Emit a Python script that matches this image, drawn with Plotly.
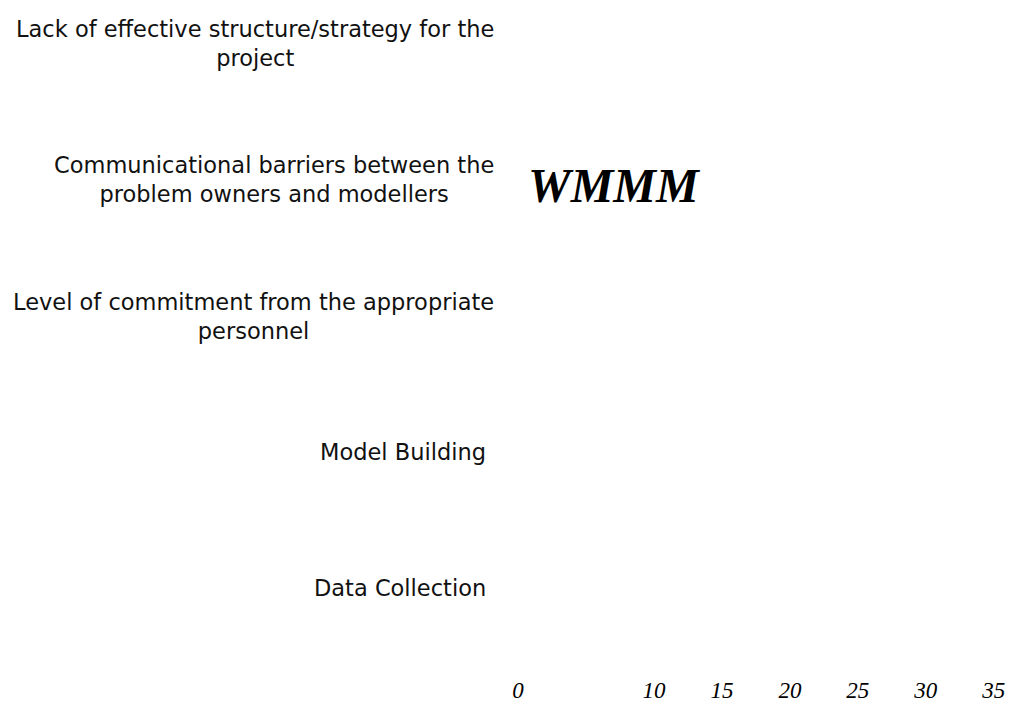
import plotly.graph_objects as go

# ---- data ----
categories = [
    "Data Collection",
    "Model Building",
    "Level of commitment from the appropriate<br>personnel",
    "Communicational barriers between the<br>problem owners and modellers",
    "Lack of effective structure/strategy for the<br>project",
]
values = [0, 0, 0, 0, 0]          # no visible bars in the reference
x_tick_values = [0, 10, 15, 20, 25, 30, 35]
x_tick_labels = ["0", "10", "15", "20", "25", "30", "35"]
marker_text = "WMMM"
marker_category = categories[3]

fig = go.Figure(
    go.Bar(
        y=categories,
        x=values,
        orientation="h",
        marker=dict(color="rgba(255,255,255,0)", line=dict(width=0)),
        hoverinfo="skip",
    )
)

label_font = dict(family="DejaVu Sans", size=22.5, color="#111111")
annotations = []
for cat in categories:
    multi = "<br>" in cat
    annotations.append(
        dict(
            text=cat,
            xref="paper",
            x=0,
            yref="y",
            y=cat,
            xanchor="right",
            yanchor="middle",
            align="center",
            showarrow=False,
            font=label_font,
            xshift=-22 if multi else -30,
        )
    )

annotations.append(
    dict(
        text=f"<b><i>{marker_text}</i></b>",
        xref="x",
        x=0,
        yref="y",
        y=marker_category,
        xanchor="left",
        yanchor="middle",
        showarrow=False,
        yshift=-6,
        xshift=8,
        font=dict(family="Liberation Serif", size=48, color="#000000"),
    )
)

fig.update_layout(
    width=1034,
    height=707,
    margin=dict(l=510, r=21, t=10, b=41),
    paper_bgcolor="#ffffff",
    plot_bgcolor="#ffffff",
    showlegend=False,
    annotations=annotations,
    xaxis=dict(
        range=[0, 37],
        tickmode="array",
        tickvals=x_tick_values,
        ticktext=x_tick_labels,
        tickfont=dict(family="Liberation Serif", size=23, color="#000000", style="italic"),
        showgrid=False,
        zeroline=False,
        showline=False,
        ticks="",
        automargin=False,
    ),
    yaxis=dict(
        type="category",
        categoryorder="array",
        categoryarray=categories,
        range=[-0.63, 4.19],
        showticklabels=False,
        showgrid=False,
        zeroline=False,
        showline=False,
        ticks="",
        automargin=False,
    ),
)

fig.write_html("out.html")
